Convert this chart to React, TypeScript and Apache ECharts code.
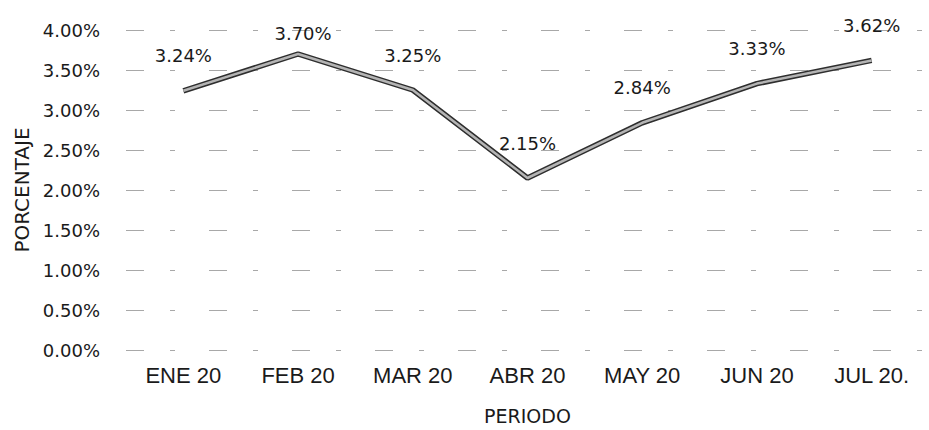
import React, { useEffect, useRef } from "react";
import * as echarts from "echarts";

const categories = ["ENE 20", "FEB 20", "MAR 20", "ABR 20", "MAY 20", "JUN 20", "JUL 20."];
const values = [3.24, 3.7, 3.25, 2.15, 2.84, 3.33, 3.62];
const yTicks = { min: 0, max: 4, interval: 0.5 };
const xTitle = "PERIODO";
const yTitle = "PORCENTAJE";

export default function App() {
  const ref = useRef<HTMLDivElement>(null);
  useEffect(() => {
    if (!ref.current) return;
    const chart = echarts.init(ref.current, null, { renderer: "svg" });
    const labelled = values.map((v, i) =>
      i === 1 ? { value: v, label: { distance: 12, offset: [5, 0] } } : { value: v }
    );
    chart.setOption({
      animation: false,
      backgroundColor: "#ffffff",
      grid: { left: 126, right: -7, top: 30, bottom: 72, containLabel: false },
      xAxis: {
        type: "category",
        data: categories,
        boundaryGap: true,
        axisLine: { show: false },
        axisTick: { show: false },
        axisLabel: {
          color: "#1a1a1a",
          fontFamily: "Liberation Sans",
          fontSize: 22,
          margin: 14,
        },
        name: xTitle,
        nameLocation: "middle",
        nameGap: 56,
        nameTextStyle: { color: "#1a1a1a", fontFamily: "DejaVu Sans", fontSize: 19 },
      },
      yAxis: {
        type: "value",
        min: yTicks.min,
        max: yTicks.max,
        interval: yTicks.interval,
        axisLine: { show: false },
        axisTick: { show: false },
        axisLabel: {
          color: "#1a1a1a",
          fontFamily: "DejaVu Sans",
          fontSize: 18,
          margin: 26,
          formatter: (v: number) => v.toFixed(2) + "%",
        },
        splitLine: {
          show: true,
          lineStyle: { color: "#a8a8a8", width: 1, type: [18, 26, 5, 34] },
        },
        name: yTitle,
        nameLocation: "middle",
        nameGap: 94,
        nameTextStyle: { color: "#1a1a1a", fontFamily: "DejaVu Sans", fontSize: 20 },
      },
      series: [
        {
          type: "line",
          data: values,
          symbol: "none",
          lineStyle: { color: "#2e2e2e", width: 5.5 },
          silent: true,
          z: 2,
        },
        {
          type: "line",
          data: labelled,
          symbol: "circle",
          symbolSize: 0,
          showSymbol: true,
          itemStyle: { color: "rgba(0,0,0,0)" },
          lineStyle: { color: "#b4b4b4", width: 2.5 },
          z: 3,
          label: {
            show: true,
            position: "top",
            distance: 26,
            color: "#1a1a1a",
            fontFamily: "DejaVu Sans",
            fontSize: 18,
            formatter: (p: any) => Number(p.value).toFixed(2) + "%",
          },
        },
      ],
    });
    return () => chart.dispose();
  }, []);
  return (
    <div
      ref={ref}
      style={{ position: "absolute", left: 0, top: 0, width: 929, height: 430 }}
    />
  );
}
